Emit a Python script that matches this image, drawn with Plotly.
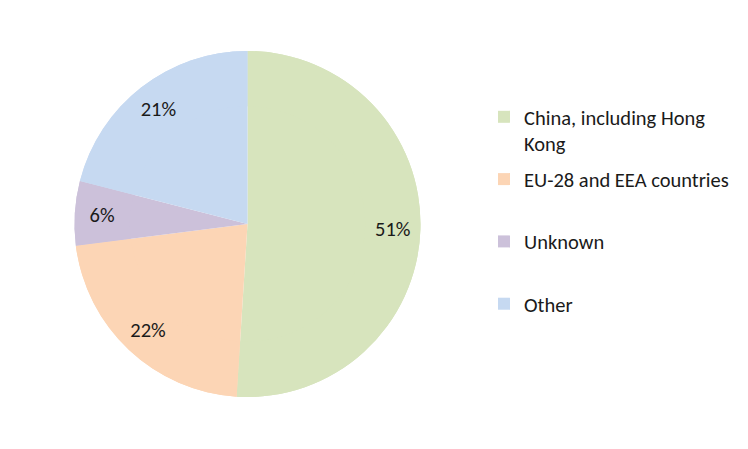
import plotly.graph_objects as go

categories = ["China, including Hong Kong", "EU-28 and EEA countries", "Unknown", "Other"]
values = [51, 22, 6, 21]
colors = ["#D7E4BD", "#FCD5B5", "#CCC1DA", "#C6D9F1"]
legend_names = ["China, including Hong<br>Kong", "EU-28 and EEA countries<br> ", "Unknown<br> ", "Other"]

W, H = 748, 449
cx, cy, r = 247.5, 224, 173
dom_x = [(cx - r) / W, (cx + r) / W]
dom_y = [(H - cy - r) / H, (H - cy + r) / H]

FONT = "Carlito, Lato, sans-serif"
TXT = "#1a1a1a"
FS = 20.5

fig = go.Figure()

# solid base pie
fig.add_trace(go.Pie(
    labels=categories, values=values, sort=False, direction="clockwise", rotation=0,
    marker=dict(colors=colors, line=dict(width=0)), textinfo="none",
    domain=dict(x=dom_x, y=dom_y), showlegend=False, hoverinfo="label+percent",
))
# ring overlay that carries the percentage labels near the rim
fig.add_trace(go.Pie(
    labels=categories, values=values, sort=False, direction="clockwise", rotation=0,
    hole=0.68, marker=dict(colors=colors, line=dict(width=0)),
    textinfo="percent", textposition="inside", insidetextorientation="horizontal",
    insidetextfont=dict(family=FONT, size=FS, color=TXT),
    domain=dict(x=dom_x, y=dom_y), showlegend=False, hoverinfo="label+percent",
))

# legend entries
for name, c in zip(legend_names, colors):
    fig.add_trace(go.Scatter(
        x=[None], y=[None], mode="markers", name=name, legendgroup=name,
        marker=dict(symbol="square", size=12, color=c, line=dict(width=0)),
        hoverinfo="skip",
    ))

fig.update_layout(
    width=W, height=H,
    margin=dict(l=0, r=0, t=0, b=0),
    paper_bgcolor="white", plot_bgcolor="white",
    font=dict(family=FONT, size=FS, color=TXT),
    xaxis=dict(visible=False), yaxis=dict(visible=False),
    uniformtext=dict(minsize=FS, mode="show"),
    legend=dict(
        x=484 / W, xanchor="left", y=0.784, yanchor="top",
        valign="top", tracegroupgap=6, bgcolor="rgba(0,0,0,0)",
        font=dict(family=FONT, size=FS, color=TXT),
    ),
)

fig.write_html("out.html", config={"displayModeBar": False},
               post_script="document.body.style.margin='0';")
